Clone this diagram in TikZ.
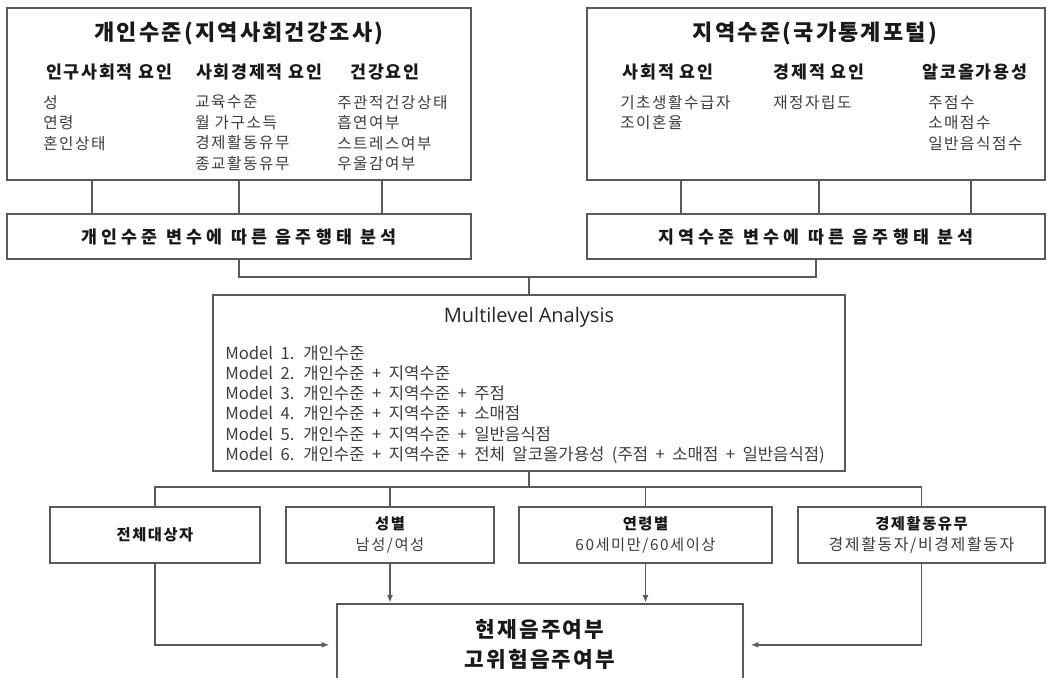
\documentclass[tikz,border=0pt]{standalone}
\usepackage{fontspec}
\setmainfont{Noto Sans CJK KR}[LetterSpace=10]
\newfontfamily\krwide{Noto Sans CJK KR}[LetterSpace=25]
\newfontfamily\krplain{Noto Sans CJK KR}[WordSpace=2.0]
\newfontfamily\mlafont{Open Sans}
\usetikzlibrary{arrows.meta}
\definecolor{linegray}{RGB}{90,90,90}
\definecolor{itemgray}{RGB}{60,60,60}

\begin{document}
\begin{tikzpicture}[x=0.75pt,y=-0.75pt,
    box/.style={draw=linegray,line width=1.2pt,inner sep=0pt},
    bigtitle/.style={font=\bfseries\fontsize{16.5pt}{20pt}\selectfont,text=black!90},
    colhead/.style={font=\bfseries\fontsize{13pt}{15pt}\selectfont,text=black!90},
    colitem/.style={font=\fontsize{11.75pt}{15.3pt}\selectfont,text=itemgray,align=left,anchor=north west,inner sep=0pt},
    bartxt/.style={font=\krwide\bfseries\fontsize{13pt}{17pt}\selectfont,text=black!90},
    grouptxt/.style={align=center,font=\bfseries\fontsize{11.5pt}{15.75pt}\selectfont,text=black!90},
    conn/.style={draw=linegray,line width=1.2pt},
    arr/.style={conn,-{Latex[length=6pt,width=4.5pt]}}]
  \useasboundingbox (0,0) rectangle (1047,678);

  % individual level
  \node[box,minimum width=348pt,minimum height=129pt] (indiv) at (239,94) {};
  \node[bigtitle] (indivtitle) at (239,33) {개인수준(지역사회건강조사)};
  \node[colhead] (demohead) at (109,72) {인구사회적 요인};
  \node[colhead] (seshead) at (259,72) {사회경제적 요인};
  \node[colhead] (healthhead) at (385,72) {건강요인};
  \node[colitem] (demoitems) at (43,95) {성\\연령\\혼인상태};
  \node[colitem] (sesitems) at (195,95) {교육수준\\월 가구소득\\경제활동유무\\종교활동유무};
  \node[colitem] (healthitems) at (337,95) {주관적건강상태\\흡연여부\\스트레스여부\\우울감여부};
  \node[box,bartxt,minimum width=348pt,minimum height=33.75pt] (indivbar) at (239,236.5) {개인수준 변수에 따른 음주행태 분석};

  % regional level
  \node[box,minimum width=343.5pt,minimum height=129pt] (region) at (816,94) {};
  \node[bigtitle] (regiontitle) at (815,33) {지역수준(국가통계포털)};
  \node[colhead] (sochead) at (668,72) {사회적 요인};
  \node[colhead] (ecohead) at (819,72) {경제적 요인};
  \node[colhead] (alchead) at (975,72) {알코올가용성};
  \node[colitem] (socitems) at (620,95) {기초생활수급자\\조이혼율};
  \node[colitem] (ecoitems) at (773,95) {재정자립도};
  \node[colitem] (alcitems) at (928,95) {주점수\\소매점수\\일반음식점수};
  \node[box,bartxt,minimum width=343.5pt,minimum height=33.75pt] (regionbar) at (816,236.5) {지역수준 변수에 따른 음주행태 분석};

  \coordinate (il1) at (92,0);
  \coordinate (il2) at (239,0);
  \coordinate (il3) at (382,0);
  \coordinate (rl1) at (681,0);
  \coordinate (rl2) at (819,0);
  \coordinate (rl3) at (971,0);
  \foreach \c in {il1,il2,il3}
    \draw[conn] (indiv.south -| \c) -- (indivbar.north -| \c);
  \foreach \c in {rl1,rl2,rl3}
    \draw[conn] (region.south -| \c) -- (regionbar.north -| \c);

  % multilevel analysis
  \node[box,minimum width=474pt,minimum height=132pt] (mla) at (529,383) {};
  \node[font=\mlafont\fontsize{15pt}{18pt}\selectfont,text=black!85] (mlatitle) at (529,317) {Multilevel Analysis};
  \node[colitem,font=\krplain\fontsize{12.5pt}{15.2pt}\selectfont] (models) at (225,345) {Model 1. 개인수준\\
    Model 2. 개인수준 + 지역수준\\
    Model 3. 개인수준 + 지역수준 + 주점\\
    Model 4. 개인수준 + 지역수준 + 소매점\\
    Model 5. 개인수준 + 지역수준 + 일반음식점\\
    Model 6. 개인수준 + 지역수준 + 전체 알코올가용성 (주점 + 소매점 + 일반음식점)};

  \coordinate (join) at (529,277);
  \draw[conn] (indivbar.south) |- (join) -| (regionbar.south);
  \draw[conn] (join) -- (mla.north);

  % subgroups
  \node[box,grouptxt,minimum width=157.5pt,minimum height=42pt] (all) at (155,535) {전체대상자};
  \node[box,grouptxt,minimum width=156pt,minimum height=42pt] (sex) at (390,535)
    {성별\\{\mdseries\color{itemgray}\fontsize{11.5pt}{15.75pt}\selectfont 남성/여성}};
  \node[box,grouptxt,minimum width=189.75pt,minimum height=42pt] (age) at (645.5,535)
    {연령별\\{\mdseries\color{itemgray}\fontsize{11.5pt}{15.75pt}\selectfont 60세미만/60세이상}};
  \node[box,grouptxt,minimum width=185.25pt,minimum height=42pt] (econ) at (921.5,535)
    {경제활동유무\\{\mdseries\color{itemgray}\fontsize{12pt}{15.75pt}\selectfont 경제활동자/비경제활동자}};

  \node[box,anchor=north,align=center,minimum width=304.5pt,minimum height=61.5pt,font=\bfseries\fontsize{16pt}{22.5pt}\selectfont,text=black!90] (result) at (540,603)
    {현재음주여부\\고위험음주여부};

  \coordinate (split) at (529,487);
  \draw[conn] (mla.south) -- (split);
  \draw[conn] (all.north) |- (split) -| (econ.north);
  \draw[conn] (sex.north) -- (sex.north |- split);
  \draw[conn] (age.north) -- (age.north |- split);
  \draw[arr] (sex.south) -- (sex.south |- result.north);
  \draw[arr] (age.south) -- (age.south |- result.north);
  \draw[arr,shorten >=5pt] (all.south) |- (result.west);
  \draw[arr,shorten >=5pt] (econ.south) |- (result.east);
\end{tikzpicture}
\end{document}
